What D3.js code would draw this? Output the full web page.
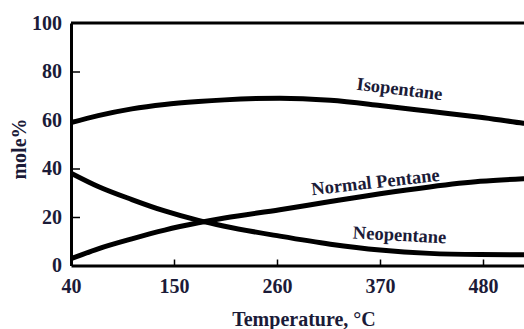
<!DOCTYPE html>
<html>
<head>
<meta charset="utf-8">
<script src="https://cdn.jsdelivr.net/npm/d3@7"></script>
<style>
  html, body { margin: 0; padding: 0; background: #fff; }
  svg { display: block; }
  text { font-family: "Liberation Serif", "Times New Roman", serif; font-weight: bold; }
</style>
</head>
<body>
<svg id="chart" width="524" height="329"></svg>
<script>
// Equilibrium composition of pentane isomers vs temperature
const temperatures = [40, 69, 105, 140, 176, 204, 263, 317, 370, 423, 477, 523, 540];
const isopentane    = [58.9, 61.8, 64.6, 66.4, 67.6, 68.3, 69.0, 68.1, 66.0, 63.6, 61.1, 58.7, 57.9];
const normalPentane = [2.8, 6.9, 11.0, 14.6, 17.6, 19.6, 23.0, 26.4, 29.6, 32.4, 34.7, 35.8, 36.1];
const neopentane    = [38.1, 32.6, 27.2, 22.5, 18.6, 16.2, 12.1, 8.8, 6.4, 5.0, 4.5, 4.4, 4.4];

const xTicks = [40, 150, 260, 370, 480];
const yTicks = [0, 20, 40, 60, 80, 100];

const seriesNames = ["Isopentane", "Normal Pentane", "Neopentane"];
// label anchor (temperature, mole%) and rotation in degrees
const labelT = [391, 365, 391];
const labelV = [73.0, 34.6, 12.8];
const labelAngle = [7, -6.5, 3];

const svg = d3.select("#chart");
const x = d3.scaleLinear().domain([40, 590]).range([71, 586]);
const y = d3.scaleLinear().domain([0, 100]).range([265.5, 23]);

const ink = "#1b1b38";

// frame: top border
svg.append("line")
  .attr("x1", x(40)).attr("x2", 600)
  .attr("y1", y(100)).attr("y2", y(100))
  .attr("stroke", "#000").attr("stroke-width", 3);

// x axis
const gx = svg.append("g")
  .attr("transform", `translate(0,${y(0)})`)
  .call(d3.axisBottom(x).tickValues(xTicks).tickSizeInner(-6).tickSizeOuter(0).tickPadding(13));
gx.select(".domain").attr("stroke", "#000").attr("stroke-width", 3);
gx.selectAll(".tick line").attr("stroke", "#000").attr("stroke-width", 1.5);
gx.selectAll(".tick text").attr("font-size", 20).attr("fill", ink)
  .style("font-family", '"Liberation Serif", serif').style("font-weight", "bold");

// y axis
const gy = svg.append("g")
  .attr("transform", `translate(${x(40)},0)`)
  .call(d3.axisLeft(y).tickValues(yTicks).tickSizeInner(-9).tickSizeOuter(0).tickPadding(9));
gy.select(".domain").attr("stroke", "#000").attr("stroke-width", 3);
gy.selectAll(".tick line").attr("stroke", "#000").attr("stroke-width", 1.5)
  .filter(d => d === 0 || d === 100).remove();
gy.selectAll(".tick text").attr("font-size", 20).attr("fill", ink)
  .style("font-family", '"Liberation Serif", serif').style("font-weight", "bold");

// axis titles
svg.append("text")
  .attr("x", 304).attr("y", 326)
  .attr("text-anchor", "middle")
  .attr("font-size", 20).attr("fill", ink)
  .text("Temperature, °C");

svg.append("text")
  .attr("transform", `translate(26,${149}) rotate(-90)`)
  .attr("text-anchor", "middle")
  .attr("font-size", 20).attr("fill", ink)
  .text("mole%");

// curves
const line = d3.line()
  .x((d, i) => x(temperatures[i]))
  .y(d => y(d))
  .curve(d3.curveMonotoneX);

svg.append("clipPath").attr("id", "plot-clip")
  .append("rect").attr("x", x(40)).attr("y", y(100)).attr("width", 600).attr("height", y(0) - y(100));

[isopentane, normalPentane, neopentane].forEach(vals => {
  svg.append("path")
    .attr("d", line(vals))
    .attr("fill", "none")
    .attr("stroke", "#000")
    .attr("stroke-width", 5)
    .attr("clip-path", "url(#plot-clip)");
});

// series labels
seriesNames.forEach((name, i) => {
  svg.append("text")
    .attr("transform", `translate(${x(labelT[i])},${y(labelV[i])}) rotate(${labelAngle[i]})`)
    .attr("text-anchor", "middle")
    .attr("dy", "0.35em")
    .attr("font-size", 18.5)
    .attr("fill", ink)
    .text(name);
});
</script>
</body>
</html>
